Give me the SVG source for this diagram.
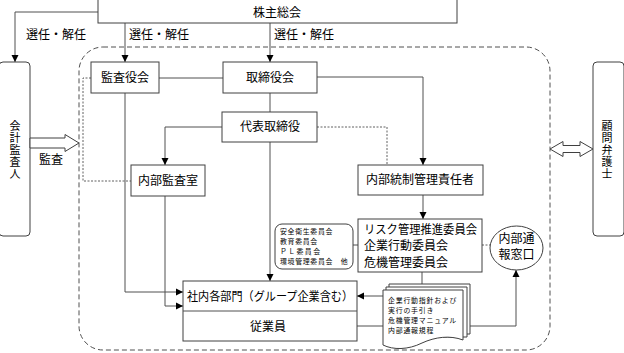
<svg xmlns="http://www.w3.org/2000/svg" width="624" height="353" viewBox="0 0 624 353">
<style>
text{font-family:"Noto Sans CJK JP","Liberation Sans",sans-serif;fill:#000;font-size:12px}
.box{fill:#fff;stroke:#404040;stroke-width:1}
.ln{fill:none;stroke:#505050;stroke-width:1}
.dot{fill:none;stroke:#606060;stroke-width:1;stroke-dasharray:2 1.5}
.dash{fill:none;stroke:#505050;stroke-width:1;stroke-dasharray:5 3}
.mid{text-anchor:middle}
.vt{writing-mode:vertical-rl;font-size:11px;letter-spacing:1px}
.sm{font-size:6.9px;letter-spacing:0.7px}
.doc{font-size:6.9px;letter-spacing:0.8px}
</style>
<defs>
<marker id="ah" markerUnits="userSpaceOnUse" markerWidth="8" markerHeight="8" refX="7" refY="4" orient="auto">
<path d="M0,0.5 L7,4 L0,7.5 Z" fill="#000"/>
</marker>
</defs>

<rect class="dash" x="79" y="47" width="471" height="303" rx="24" ry="24"/>

<g id="connectors">
<path class="ln" d="M98,12 H15 V62" marker-end="url(#ah)"/>
<path class="ln" d="M125,23 V62" marker-end="url(#ah)"/>
<path class="ln" d="M270,23 V62" marker-end="url(#ah)"/>
<path class="ln" d="M159,78 H223"/>
<path class="ln" d="M317,77 H423 V165" marker-end="url(#ah)"/>
<path class="ln" d="M270,93 V112"/>
<path class="ln" d="M222,127 H165 V165" marker-end="url(#ah)"/>
<path class="dot" d="M91,78 H83 V181 H131"/>
<path class="dot" d="M317,127 H387 V165"/>
<path class="ln" d="M125,93 V292 H183" marker-end="url(#ah)"/>
<path class="ln" d="M165,196 V306 H183" marker-end="url(#ah)"/>
<path class="ln" d="M270,142 V281" marker-end="url(#ah)"/>
<path class="ln" d="M423,195 V219" marker-end="url(#ah)"/>
<path class="ln" d="M353,245 H358"/>
<path class="dot" d="M482,245 H490"/>
<path class="ln" d="M422,272 V284"/>
<path class="ln" d="M383,296 H357" marker-end="url(#ah)"/>
<path class="ln" d="M357,326 H383"/>
<path class="ln" d="M470,326 H516 V270" marker-end="url(#ah)"/>
</g>

<g id="kabunushi">
<rect class="box" x="98" y="-1" width="359" height="24"/>
<text class="mid" x="277" y="17">株主総会</text>
</g>
<g id="labels">
<text x="26" y="39">選任・解任</text>
<text x="129" y="39">選任・解任</text>
<text x="274" y="39">選任・解任</text>
<text x="39" y="164">監査</text>
</g>

<g id="kaikei">
<rect class="box" x="-1" y="62" width="31" height="174" rx="4"/>
<text class="vt" x="15" y="120">会計監査人</text>
</g>
<g id="komon">
<rect class="box" x="593" y="62" width="31" height="174" rx="4"/>
<text class="vt" x="607" y="120">顧問弁護士</text>
</g>

<g id="kansa-arrow">
<polygon class="box" points="30,138 65,138 65,134.5 79,143 65,151.5 65,148 30,148"/>
</g>
<g id="bengo-arrow">
<polygon class="box" points="550,149 563,141.5 563,145.5 580,145.5 580,141.5 593,149 580,156.5 580,152.5 563,152.5 563,156.5"/>
</g>

<g id="kansayakukai">
<rect class="box" x="91" y="62" width="68" height="31"/>
<text class="mid" x="125" y="82">監査役会</text>
</g>
<g id="torishimariyakukai">
<rect class="box" x="223" y="62" width="94" height="31"/>
<text class="mid" x="270" y="82">取締役会</text>
</g>
<g id="daihyo">
<rect class="box" x="222" y="112" width="95" height="30"/>
<text class="mid" x="270" y="131">代表取締役</text>
</g>
<g id="naibukansa">
<rect class="box" x="131" y="165" width="74" height="31"/>
<text class="mid" x="168" y="185">内部監査室</text>
</g>
<g id="naibutosei">
<rect class="box" x="358" y="165" width="125" height="30"/>
<text class="mid" x="420" y="184">内部統制管理責任者</text>
</g>
<g id="iinkai">
<rect class="box" x="358" y="219" width="124" height="53"/>
<text x="364" y="233.5"><tspan textLength="113" lengthAdjust="spacingAndGlyphs">リスク管理推進委員会</tspan><tspan x="364" dy="16.5">企業行動委員会</tspan><tspan x="364" dy="16.5">危機管理委員会</tspan></text>
</g>
<g id="sonota">
<rect class="box" x="275" y="224" width="78" height="45" rx="7"/>
<text class="sm" x="280" y="233.5">安全衛生委員会<tspan x="280" dy="10">教育委員会</tspan><tspan x="280" dy="10" letter-spacing="1.4">ＰＬ委員会</tspan><tspan x="280" dy="10">環境管理委員会　他</tspan></text>
</g>
<g id="tsuho">
<ellipse class="box" cx="516.5" cy="248" rx="26.5" ry="22"/>
<text class="mid" x="516.5" y="242.5">内部通<tspan x="516.5" dy="16">報窓口</tspan></text>
</g>
<g id="shanai">
<rect class="box" x="183" y="281" width="174" height="60"/>
<line class="ln" x1="183" y1="311" x2="357" y2="311"/>
<text x="187" y="300.5" textLength="166" lengthAdjust="spacingAndGlyphs">社内各部門（グループ企業含む）</text>
<text class="mid" x="268" y="330.5">従業員</text>
</g>
<g id="documents">
<path class="box" d="M389,284 H470 V334 L389,334 Z"/>
<path class="box" d="M386,287 H467 V337 L386,337 Z"/>
<path class="box" d="M383,290 H463 V340 C450,335 435,337 422,343 C408,350 393,350 383,345 Z"/>
<text class="doc" x="388" y="302.5">企業行動指針および<tspan x="388" dy="10">実行の手引き</tspan><tspan x="388" dy="10">危機管理マニュアル</tspan><tspan x="388" dy="10">内部通報規程</tspan></text>
</g>
</svg>
